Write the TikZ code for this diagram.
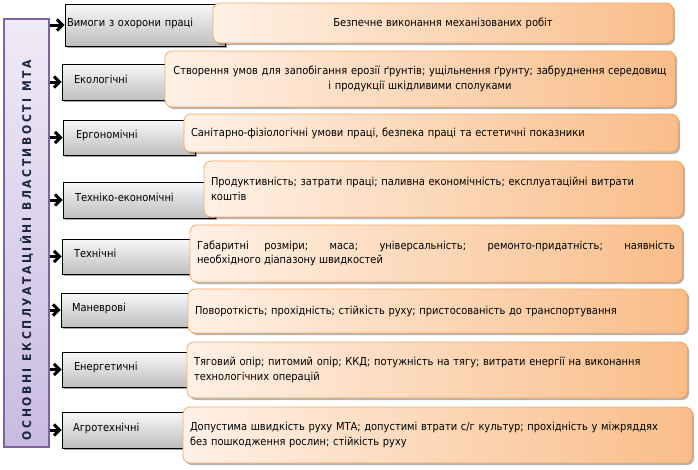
\documentclass[tikz,border=0pt]{standalone}
\usepackage{fontspec}
\setmainfont{DejaVu Sans Condensed}
\usetikzlibrary{arrows.meta,shadows}

\definecolor{gtop}{HTML}{F8F8F8}
\definecolor{gbot}{HTML}{BEBEBE}
\definecolor{oleft}{HTML}{FFF1E6}
\definecolor{oright}{HTML}{F9BD89}
\definecolor{oline}{HTML}{F7A865}
\definecolor{ptop}{HTML}{EFEAF7}
\definecolor{pbot}{HTML}{C9BBE0}
\definecolor{pline}{HTML}{8064A2}
\definecolor{ttl}{HTML}{1C2640}

\tikzset{
  graybox/.style={draw=black, line width=0.8pt, top color=gtop, bottom color=gbot,
    drop shadow={shadow xshift=1.5pt, shadow yshift=-1.5pt, fill=black, opacity=0.35},
    inner sep=0pt, align=left, font=\fontsize{11}{14}\selectfont,
    text height=8pt, text depth=6pt},
  orangebox/.style={draw=oline, line width=0.8pt, rounded corners=7pt,
    left color=oleft, right color=oright,
    drop shadow={shadow xshift=2pt, shadow yshift=-2pt, fill=black, opacity=0.3},
    inner sep=0pt, font=\fontsize{11}{14.5}\selectfont},
  titlebox/.style={draw=pline, line width=1.3pt, top color=ptop, bottom color=pbot,
    inner sep=0pt, text=ttl, font=\bfseries\fontsize{12}{14}\selectfont},
  feed/.style={line width=3pt, -{Straight Barb[length=5.5pt,width=11pt]}}
}

% gap between the words of the spaced-out title
\newcommand\titlegap{\hspace{2pt plus 2fil}}

% property box: name, x1, y1, x2, y2, left padding, text
\newcommand\gbox[7]{%
  \pgfmathsetmacro\bxw{#4-#2}%
  \pgfmathsetmacro\bxh{#5-#3}%
  \pgfmathsetmacro\bxt{#4-#2-2*#6}%
  \node[graybox, minimum width=\bxw pt, minimum height=\bxh pt, text width=\bxt pt]
    (#1) at ({(#2+#4)/2},{(#3+#5)/2}) {#7};}

% description box: name, x1, y1, x2, y2, alignment, text
\newcommand\obox[7]{%
  \pgfmathsetmacro\bxw{#4-#2}%
  \pgfmathsetmacro\bxh{#5-#3}%
  \pgfmathsetmacro\bxt{#4-#2-14}%
  \node[orangebox, minimum width=\bxw pt, minimum height=\bxh pt, text width=\bxt pt, align=#6]
    (#1) at ({(#2+#4)/2},{(#3+#5)/2}) {#7};}

\begin{document}
\begin{tikzpicture}[x=1pt, y=-1pt]
  \fill[white] (0,0) rectangle (698,469);
  \useasboundingbox (0,0) rectangle (698,469);

  % vertical title column, letters spread over a fixed length
  \node[titlebox, minimum width=45pt, minimum height=428pt] (title) at (26.5,233)
    {\rotatebox{90}{\makebox[380pt][s]{%
      О\hfil С\hfil Н\hfil О\hfil В\hfil Н\hfil І\titlegap
      Е\hfil К\hfil С\hfil П\hfil Л\hfil У\hfil А\hfil Т\hfil А\hfil Ц\hfil І\hfil Й\hfil Н\hfil І\titlegap
      В\hfil Л\hfil А\hfil С\hfil Т\hfil И\hfil В\hfil О\hfil С\hfil Т\hfil І\titlegap
      М\hfil Т\hfil А}\hspace{34pt}}};

  % property groups
  \gbox{g1}{65}{4}{225}{46}{2}{Вимоги з охорони праці}
  \gbox{g2}{62}{64}{175}{100}{12}{Екологічні}
  \gbox{g3}{63}{120}{195}{155}{13}{Ергономічні}
  \gbox{g4}{63}{182}{215}{218}{12}{Техніко-економічні}
  \gbox{g5}{62}{239}{200}{274}{12}{Технічні}
  \gbox{g6}{61}{293}{198}{327}{11}{Маневрові}
  \gbox{g7}{62}{352}{198}{387}{12}{Енергетичні}
  \gbox{g8}{62}{412}{193}{448}{11}{Агротехнічні}

  % descriptions
  \obox{o1}{213}{3}{673}{43}{center}{Безпечне виконання механізованих робіт}
  \obox{o2}{165}{51}{675}{107}{center}{Створення умов для запобігання ерозії ґрунтів; ущільнення ґрунту; забруднення середовищ\\ і продукції шкідливими сполуками}
  \obox{o3}{184}{114}{678}{152}{left}{Санітарно-фізіологічні умови праці, безпека праці та естетичні показники}
  \obox{o4}{204}{161}{683}{217}{left}{Продуктивність; затрати праці; паливна економічність; експлуатаційні витрати\\ коштів}
  \obox{o5}{190}{225}{682}{282}{justify}{Габаритні розміри; маса; універсальність; ремонто-придатність; наявність\linebreak необхідного діапазону швидкостей}
  \obox{o6}{188}{289}{687}{333}{left}{Повороткість; прохідність; стійкість руху; пристосованість до транспортування}
  \obox{o7}{187}{342}{687}{398}{left}{Тяговий опір; питомий опір; ККД; потужність на тягу; витрати енергії на виконання\\ технологічних операцій}
  \obox{o8}{183}{407}{692}{463}{left}{Допустима швидкість руху МТА; допустимі втрати с/г культур; прохідність у міжряддях\\ без пошкодження рослин; стійкість руху}

  % arrows from the title column
  \foreach \g in {g1,g2,g3,g4,g5,g6,g7,g8}
    \draw[feed] (title.east |- \g.west) -- (\g.west);
\end{tikzpicture}
\end{document}
